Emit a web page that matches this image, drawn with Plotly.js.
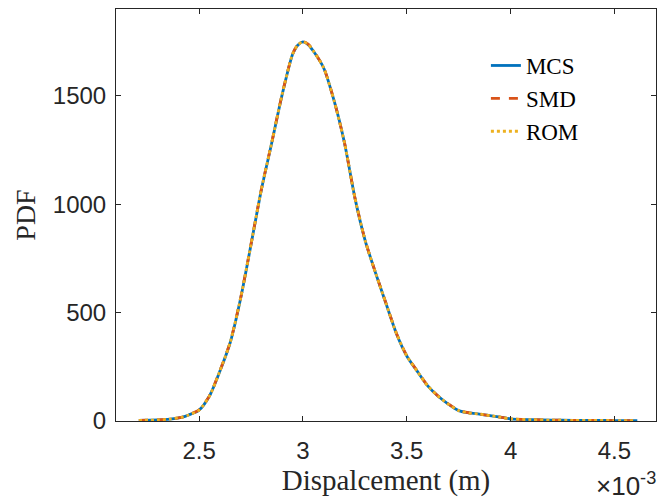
<!DOCTYPE html>
<html>
<head>
<meta charset="utf-8">
<script src="https://cdn.plot.ly/plotly-3.0.1.min.js"></script>
<style>html,body{margin:0;padding:0;background:#fff;}#chart{width:657px;height:500px;}</style>
</head>
<body>
<div id="chart"></div>
<script>
// Displacement (m) and PDF values
const dispMCS = [0.00221,0.00230,0.00236,0.00242,0.00245,0.00250,0.00255,0.00260,0.00265,0.00270,0.00275,0.00280,0.00285,0.00290,0.00295,0.002975,0.00300,0.003025,0.00305,0.00310,0.00315,0.00320,0.00325,0.00330,0.00335,0.00340,0.00345,0.00350,0.00355,0.00360,0.00365,0.00370,0.00375,0.00380,0.00385,0.00390,0.00395,0.00400,0.00410,0.00420,0.00430,0.00440,0.00450,0.00461];
const pdfMCS  = [3,5,9,18,28,50,115,229,362,565,813,1067,1283,1505,1690,1733,1748,1736,1706,1628,1477,1283,1030,831,682,542,404,300,230,163,115,78,48,37,32,25,18,10,6,4,3,3,2,2];
const dispSMD = [0.00221,0.00230,0.00236,0.00242,0.00245,0.00250,0.00255,0.00260,0.00265,0.00270,0.00275,0.00280,0.00285,0.00290,0.00295,0.002975,0.00300,0.003025,0.00305,0.00310,0.00315,0.00320,0.00325,0.00330,0.00335,0.00340,0.00345,0.00350,0.00355,0.00360,0.00365,0.00370,0.00375,0.00380,0.00385,0.00390,0.00395,0.00400,0.00410,0.00420,0.00430,0.00440,0.00450,0.00460];
const pdfSMD  = [3,5,9,18,29,51,116,231,364,567,815,1069,1285,1507,1692,1735,1750,1738,1708,1629,1478,1284,1031,832,683,543,405,301,231,164,116,79,49,38,32,25,18,10,6,4,3,3,2,2];
const dispROM = [0.00221,0.00230,0.00236,0.00242,0.00245,0.00250,0.00255,0.00260,0.00265,0.00270,0.00275,0.00280,0.00285,0.00290,0.00295,0.002975,0.00300,0.003025,0.00305,0.00310,0.00315,0.00320,0.00325,0.00330,0.00335,0.00340,0.00345,0.00350,0.00355,0.00360,0.00365,0.00370,0.00375,0.00380,0.00385,0.00390,0.00395,0.00400,0.00410,0.00420,0.00430,0.00440,0.00450,0.00460];
const pdfROM  = [3,5,9,18,28,50,115,230,363,566,814,1068,1284,1506,1691,1734,1749,1737,1707,1628,1477,1283,1030,831,682,542,404,300,230,163,115,78,48,37,32,25,18,10,6,4,3,3,2,2];
const xTickVals = [0.0025,0.003,0.0035,0.004,0.0045];
const xTickText = ['2.5','3','3.5','4','4.5'];
const yTickVals = [0,500,1000,1500];

const axisColor = '#262626';
const tickFont = {family:'"Liberation Sans", Arial, sans-serif', size:24, color:axisColor};
const serif = '"Liberation Serif", "DejaVu Serif", serif';

const traces = [
  {x:dispMCS, y:pdfMCS, name:'MCS', mode:'lines', line:{color:'#0072BD', width:2.8, dash:'solid', shape:'spline', smoothing:0.7}},
  {x:dispSMD, y:pdfSMD, name:'SMD', mode:'lines', line:{color:'#D95319', width:2.8, dash:'dash', shape:'spline', smoothing:0.7}},
  {x:dispROM, y:pdfROM, name:'ROM', mode:'lines', line:{color:'#EDB120', width:2.8, dash:'dot', shape:'spline', smoothing:0.7}}
];

const layout = {
  width:657, height:500,
  margin:{l:116, r:1, t:9, b:79},
  paper_bgcolor:'#fff', plot_bgcolor:'#fff',
  showlegend:true,
  legend:{x:0.685, y:0.915, xanchor:'left', yanchor:'top', bgcolor:'rgba(0,0,0,0)', borderwidth:0,
          font:{family:serif, size:23, color:'#000'}, tracegroupgap:0},
  xaxis:{range:[0.0021,0.0047], tickmode:'array', tickvals:xTickVals, ticktext:xTickText,
         ticks:'inside', ticklen:5, tickcolor:axisColor, tickwidth:1, ticklabelstandoff:8,
         showline:true, linecolor:axisColor, linewidth:1, mirror:'ticks',
         showgrid:false, zeroline:false, tickfont:tickFont,
         title:{text:'Dispalcement (m)', font:{family:serif, size:29, color:axisColor}, standoff:5}},
  yaxis:{range:[0,1900], tickmode:'array', tickvals:yTickVals,
         ticks:'inside', ticklen:5, tickcolor:axisColor, tickwidth:1, ticklabelstandoff:4,
         showline:true, linecolor:axisColor, linewidth:1, mirror:'ticks',
         showgrid:false, zeroline:false, tickfont:tickFont,
         title:{text:'PDF', font:{family:serif, size:28, color:axisColor}, standoff:9}},
  annotations:[{xref:'paper', yref:'paper', x:1.004, y:-0.2, xanchor:'right', yanchor:'bottom', showarrow:false,
                text:'×10<sup>-3</sup>', font:{family:'"Liberation Sans", Arial, sans-serif', size:26, color:axisColor}}]
};

Plotly.newPlot('chart', traces, layout, {staticPlot:true, displayModeBar:false});
</script>
</body>
</html>
